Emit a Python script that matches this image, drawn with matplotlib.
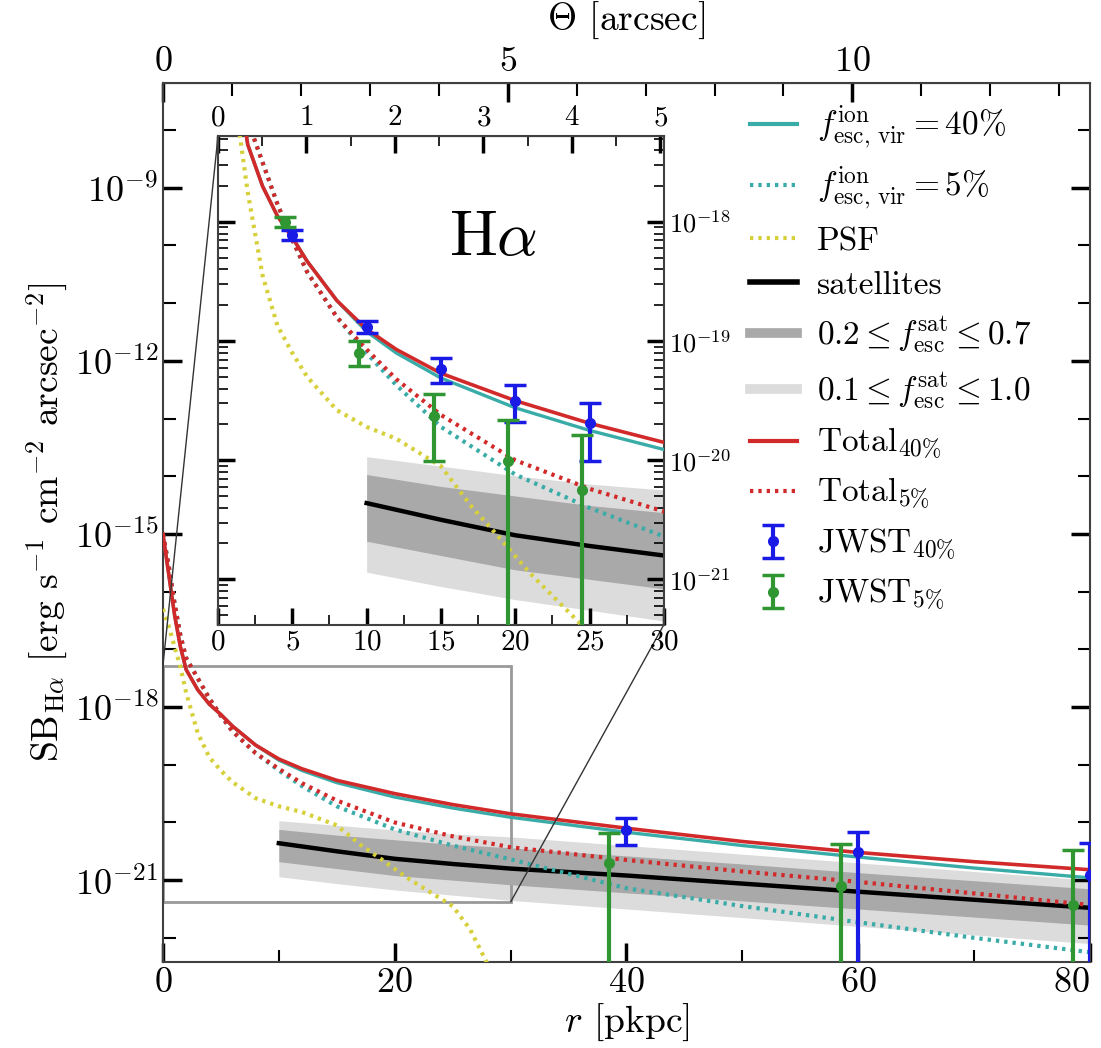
import numpy as np
import matplotlib.pyplot as plt
from matplotlib.ticker import FixedLocator, LogLocator, NullFormatter, MultipleLocator
from matplotlib.lines import Line2D
from mpl_toolkits.axes_grid1.inset_locator import mark_inset

plt.rcParams['font.family'] = 'serif'
plt.rcParams['font.serif'] = ['cmr10', 'DejaVu Serif']
plt.rcParams['mathtext.fontset'] = 'cm'
plt.rcParams['axes.formatter.use_mathtext'] = True
plt.rcParams['axes.unicode_minus'] = False

KPC_PER_ARCSEC = 5.95

# model curves, log10 SB [erg s^-1 cm^-2 arcsec^-2]
r_model = [0, 0.5, 1, 1.5, 2, 3, 4, 5, 6, 8, 10, 12, 15, 20, 25, 30, 40, 50, 60, 70, 80]
total40 = [-15.0, -15.7, -16.4, -16.95, -17.35, -17.7, -17.95, -18.13, -18.33, -18.66, -18.9,
           -19.07, -19.27, -19.5, -19.69, -19.85, -20.1, -20.33, -20.52, -20.68, -20.82]
total5 = [-15.0, -15.55, -16.2, -16.75, -17.15, -17.5, -17.85, -18.15, -18.42, -18.8, -19.07,
          -19.32, -19.62, -20.0, -20.24, -20.43, -20.65, -20.85, -21.03, -21.23, -21.43]
fesc40 = [-15.0, -15.7, -16.4, -16.95, -17.35, -17.7, -17.95, -18.13, -18.33, -18.66, -18.92,
          -19.1, -19.31, -19.56, -19.75, -19.91, -20.17, -20.4, -20.6, -20.79, -20.96]
fesc5 = [-15.0, -15.55, -16.2, -16.75, -17.15, -17.5, -17.85, -18.15, -18.42, -18.8, -19.1,
         -19.37, -19.72, -20.12, -20.4, -20.64, -21.14, -21.45, -21.73, -22.0, -22.25]

r_psf = [0, 0.5, 1, 1.5, 2, 3, 4, 5, 6, 8, 10, 12, 15, 17, 19, 21, 23, 25, 26.5, 28, 30]
psf = [-16.3, -16.6, -16.95, -17.3, -17.75, -18.45, -18.87, -19.1, -19.3, -19.58, -19.72,
       -19.82, -20.05, -20.38, -20.66, -20.95, -21.2, -21.45, -21.85, -22.45, -23.2]

r_sat = [10, 15, 20, 25, 30, 40, 50, 60, 70, 80]
sat = [-20.36, -20.5, -20.63, -20.72, -20.8, -20.92, -21.06, -21.2, -21.34, -21.48]
band1_hi = [-20.12, -20.22, -20.3, -20.38, -20.44, -20.58, -20.72, -20.87, -21.01, -21.15]
band1_lo = [-20.68, -20.8, -20.92, -21.0, -21.08, -21.22, -21.36, -21.5, -21.64, -21.78]
band2_hi = [-19.97, -20.05, -20.13, -20.2, -20.25, -20.4, -20.55, -20.7, -20.85, -21.0]
band2_lo = [-20.94, -21.06, -21.17, -21.26, -21.35, -21.5, -21.65, -21.8, -21.95, -22.1]

# JWST mock points (inset bins)
jw40_r_in = [5, 10, 15, 20, 25]
jw40_in = [-18.11, -18.88, -19.23, -19.5, -19.69]
jw40_hi_in = [-18.07, -18.83, -19.14, -19.37, -19.52]
jw40_lo_in = [-18.15, -18.93, -19.35, -19.68, -20.01]
jw5_r_in = [4.5, 9.5, 14.5, 19.5, 24.5]
jw5_in = [-18.0, -19.1, -19.63, -20.01, -20.25]
jw5_hi_in = [-17.96, -19.0, -19.44, -19.66, -19.79]
jw5_lo_in = [-18.04, -19.21, -20.01, -25.0, -25.0]

# JWST mock points (main panel bins)
jw40_r = [40, 60, 80]
jw40 = [-20.13, -20.51, -20.91]
jw40_hi = [-19.92, -20.17, -20.36]
jw40_lo = [-20.39, -25.0, -25.0]
jw5_r = [38.5, 58.5, 78.5]
jw5 = [-20.7, -21.1, -21.43]
jw5_hi = [-20.19, -20.38, -20.48]
jw5_lo = [-25.0, -25.0, -25.0]

C_TEAL = '#3aaca8'
C_RED = '#d22a2a'
C_YEL = '#d6d03c'
C_BLUE = '#1a1ae6'
C_GREEN = '#2f9632'
C_DARK = '#a9a9a9'
C_LIGHT = '#dcdcdc'
DOT = (0, (0.8, 1.2))


def lg(v):
    return 10.0 ** np.array(v)


def draw_models(a):
    a.fill_between(r_sat, lg(band2_lo), lg(band2_hi), color=C_LIGHT, lw=0, zorder=1)
    a.fill_between(r_sat, lg(band1_lo), lg(band1_hi), color=C_DARK, lw=0, zorder=1.1)
    a.plot(r_sat, lg(sat), color='k', lw=3.2, zorder=2)
    a.plot(r_model, lg(fesc40), color=C_TEAL, lw=2.4, zorder=3)
    a.plot(r_model, lg(fesc5), color=C_TEAL, lw=3, ls=DOT, zorder=3)
    a.plot(r_psf, lg(psf), color=C_YEL, lw=3, ls=DOT, zorder=3)
    a.plot(r_model, lg(total40), color=C_RED, lw=2.6, zorder=4)
    a.plot(r_model, lg(total5), color=C_RED, lw=3, ls=DOT, zorder=4)


def draw_points(a, r, y, hi, lo, color):
    y = lg(y)
    yerr = [y - lg(lo), lg(hi) - y]
    return a.errorbar(r, y, yerr=yerr, fmt='o', color=color, ms=7, elinewidth=3,
                      capsize=8, capthick=2.5, zorder=6)


fig = plt.figure(figsize=(11.01, 10.48), dpi=100)
ax = fig.add_axes([0.148, 0.082, 0.842, 0.839])
axins = fig.add_axes([0.198, 0.404, 0.405, 0.466])

# main panel
draw_models(ax)
draw_points(ax, jw40_r, jw40, jw40_hi, jw40_lo, C_BLUE)
draw_points(ax, jw5_r, jw5, jw5_hi, jw5_lo, C_GREEN)
ax.set_yscale('log')
ax.set_xlim(0, 80)
ax.set_ylim(10 ** -22.42, 10 ** -7.18)
ax.set_xticks([0, 20, 40, 60, 80])
ax.xaxis.set_minor_locator(MultipleLocator(10))
ax.set_yticks([1e-21, 1e-18, 1e-15, 1e-12, 1e-9])
ax.yaxis.set_minor_locator(FixedLocator([10.0 ** k for k in range(-22, -7) if k % 3 != 0]))
ax.yaxis.set_minor_formatter(NullFormatter())
ax.tick_params(which='both', direction='in', top=False, right=True, labelsize=26)
ax.tick_params(which='major', length=14, width=2.5)
ax.tick_params(which='minor', length=9, width=1.5)
ax.get_xticklabels()[-1].set_horizontalalignment('right')
for s in ax.spines.values():
    s.set_linewidth(1.5)
    s.set_color('0.25')
ax.set_xlabel(r'$r$ [pkpc]', fontsize=27, labelpad=2)
ax.set_ylabel(r'SB$_{\rm H\alpha}$ [erg s$^{-1}$ cm$^{-2}$ arcsec$^{-2}$]', fontsize=27, labelpad=4)

sec = ax.secondary_xaxis('top', functions=(lambda r: r / KPC_PER_ARCSEC,
                                           lambda t: t * KPC_PER_ARCSEC))
sec.set_xticks([0, 5, 10])
sec.xaxis.set_minor_locator(MultipleLocator(1))
sec.tick_params(which='both', direction='in', labelsize=26)
sec.tick_params(which='major', length=14, width=2.5)
sec.tick_params(which='minor', length=9, width=1.5)
sec.set_xlabel(r'$\Theta$ [arcsec]', fontsize=27, labelpad=12)

# inset
draw_models(axins)
eb40 = draw_points(axins, jw40_r_in, jw40_in, jw40_hi_in, jw40_lo_in, C_BLUE)
eb5 = draw_points(axins, jw5_r_in, jw5_in, jw5_hi_in, jw5_lo_in, C_GREEN)
axins.set_yscale('log')
axins.set_xlim(0, 30)
axins.set_ylim(10 ** -21.38, 10 ** -17.28)
axins.set_xticks([0, 5, 10, 15, 20, 25, 30])
axins.xaxis.set_minor_locator(MultipleLocator(2.5))
axins.set_yticks([1e-21, 1e-20, 1e-19, 1e-18])
axins.yaxis.set_minor_locator(LogLocator(base=10, subs=np.arange(2, 10)))
axins.yaxis.set_minor_formatter(NullFormatter())
axins.tick_params(which='both', direction='in', top=False, left=True, right=True,
                  labelleft=False, labelright=True)
axins.tick_params(axis='x', labelsize=21)
axins.tick_params(axis='y', labelsize=19)
axins.tick_params(which='major', length=12, width=2.5)
axins.tick_params(which='minor', length=7, width=1.2)
for s in axins.spines.values():
    s.set_linewidth(1.5)
    s.set_color('0.25')
secin = axins.secondary_xaxis('top', functions=(lambda r: r / KPC_PER_ARCSEC,
                                                lambda t: t * KPC_PER_ARCSEC))
secin.set_xticks([0, 1, 2, 3, 4, 5])
secin.xaxis.set_minor_locator(MultipleLocator(0.5))
secin.tick_params(which='both', direction='in', labelsize=21)
secin.tick_params(which='major', length=12, width=2.5)
secin.tick_params(which='minor', length=7, width=1.2)
axins.text(0.617, 0.79, r'H$\alpha$', transform=axins.transAxes, fontsize=46,
           ha='center', va='center')

pp, p1, p2 = mark_inset(ax, axins, loc1=2, loc2=4, fc='none', ec='0.6', lw=2)
for p in (p1, p2):
    p.set_edgecolor('0.2')
    p.set_linewidth(1)

# legend
handles = [
    Line2D([], [], color=C_TEAL, lw=3),
    Line2D([], [], color=C_TEAL, lw=3, ls=DOT),
    Line2D([], [], color=C_YEL, lw=3, ls=DOT),
    Line2D([], [], color='k', lw=4),
    Line2D([], [], color=C_DARK, lw=7),
    Line2D([], [], color=C_LIGHT, lw=7),
    Line2D([], [], color=C_RED, lw=3),
    Line2D([], [], color=C_RED, lw=3, ls=DOT),
    eb40,
    eb5,
]
labels = [
    r'$f^{\rm ion}_{\rm esc,\,vir} = 40\%$',
    r'$f^{\rm ion}_{\rm esc,\,vir} = 5\%$',
    'PSF',
    'satellites',
    r'$0.2 \leq f^{\rm sat}_{\rm esc} \leq 0.7$',
    r'$0.1 \leq f^{\rm sat}_{\rm esc} \leq 1.0$',
    r'Total$_{40\%}$',
    r'Total$_{5\%}$',
    r'JWST$_{40\%}$',
    r'JWST$_{5\%}$',
]
ax.legend(handles, labels, loc='upper left', bbox_to_anchor=(750 / 1101, 1 - 104 / 1048),
          bbox_transform=fig.transFigure, frameon=False, fontsize=24, handlelength=1.4,
          handletextpad=0.6, labelspacing=0.43, borderpad=0, borderaxespad=0)

fig.savefig('out.png', dpi=100)
